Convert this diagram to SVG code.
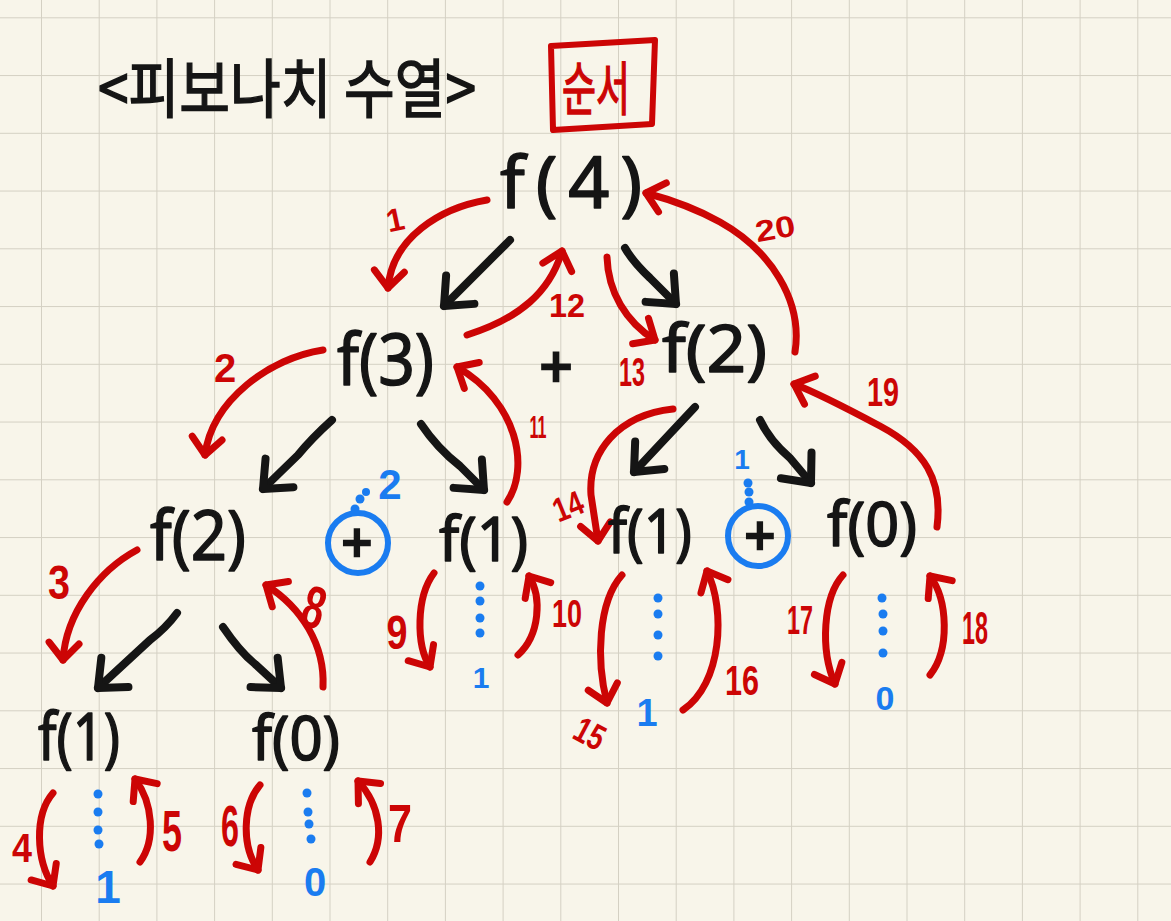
<svg xmlns="http://www.w3.org/2000/svg" width="1171" height="921" viewBox="0 0 1171 921">
<style>
.blk{fill:none;stroke:#151515;stroke-width:8;stroke-linecap:round;stroke-linejoin:round}
.red{fill:none;stroke:#cc0505;stroke-width:7;stroke-linecap:round;stroke-linejoin:round}
.node{font-family:"Noto Sans","DejaVu Sans",sans-serif;fill:#151515;stroke:#151515;stroke-width:1.5;stroke-linejoin:round}
.num{font-family:"Liberation Sans","Noto Sans",sans-serif;font-weight:bold;fill:#cc0505;text-anchor:middle}
.bnum{font-family:"Liberation Sans","Noto Sans",sans-serif;font-weight:bold;fill:#1a7cf0;text-anchor:middle}
.kr{font-family:"Noto Sans CJK KR","Noto Sans",sans-serif}
.dot{fill:#1a7cf0}
.ring{fill:none;stroke:#1a7cf0;stroke-width:6}
.plus{font-family:"Noto Sans","DejaVu Sans",sans-serif;fill:#151515;stroke:#151515;stroke-width:2.5;text-anchor:middle}
</style>
<defs>
<pattern id="grid" patternUnits="userSpaceOnUse" x="41" y="17.3" width="57.7" height="57.75">
<path d="M0 0 H57.7 M0 0 V57.75" fill="none" stroke="#d4d0c3" stroke-width="2"/>
</pattern>
<marker id="hb" markerUnits="userSpaceOnUse" viewBox="-30 -25 36 50" markerWidth="36" markerHeight="50" refX="0" refY="0" orient="auto">
<path d="M-23 -20 L0 0 L-23 20" fill="none" stroke="#151515" stroke-width="8" stroke-linecap="round" stroke-linejoin="round"/>
</marker>
<marker id="hr" markerUnits="userSpaceOnUse" viewBox="-25 -20 30 40" markerWidth="30" markerHeight="40" refX="0" refY="0" orient="auto">
<path d="M-17 -15 L0 0 L-17 15" fill="none" stroke="#cc0505" stroke-width="7" stroke-linecap="round" stroke-linejoin="round"/>
</marker>
</defs>
<rect width="1171" height="921" fill="#f8f5ea"/>
<rect width="1171" height="921" fill="url(#grid)"/>

<g id="title">
<text class="kr" x="98" y="112" font-size="64" fill="#151515" stroke="#151515" stroke-width="1.5" textLength="378" lengthAdjust="spacingAndGlyphs">&lt;피보나치 수열&gt;</text>
</g>
<g id="order-box">
<path d="M551 46 L655 40 L652 124 L553 130 Z" fill="none" stroke="#cc0505" stroke-width="6" stroke-linejoin="round"/>
<text class="kr" x="562" y="110" font-size="58" fill="#cc0505" stroke="#cc0505" stroke-width="1.5" textLength="68" lengthAdjust="spacingAndGlyphs">순서</text>
</g>

<g id="connectors">
<!-- black call arrows -->
<path class="blk" marker-end="url(#hb)" d="M510 240 L444 306"/>
<path class="blk" marker-end="url(#hb)" d="M625 248 Q633 262 650 278 L676 304"/>
<path class="blk" marker-end="url(#hb)" d="M332 420 Q312 438 298 455 L263 489"/>
<path class="blk" marker-end="url(#hb)" d="M421 424 Q437 448 460 466 L484 490"/>
<path class="blk" marker-end="url(#hb)" d="M177 613 Q166 628 150 640 L98 688"/>
<path class="blk" marker-end="url(#hb)" d="M223 627 Q240 652 255 664 L281 688"/>
<path class="blk" marker-end="url(#hb)" d="M695 407 L634 472"/>
<path class="blk" marker-end="url(#hb)" d="M760 420 Q770 441 790 458 L811 483"/>
<!-- red order arrows -->
<path class="red" marker-end="url(#hr)" d="M487 200 C440 208 392 238 388 288"/>
<path class="red" marker-end="url(#hr)" d="M323 350 C270 358 212 400 205 455"/>
<path class="red" marker-end="url(#hr)" d="M137 550 C100 570 66 612 63 660"/>
<path class="red" marker-end="url(#hr)" d="M53 793 C34 815 36 860 53 886"/>
<path class="red" marker-end="url(#hr)" d="M140 862 C156 840 153 803 135 779"/>
<path class="red" marker-end="url(#hr)" d="M260 785 C243 805 241 845 258 870"/>
<path class="red" marker-end="url(#hr)" d="M370 862 C385 838 380 805 358 781"/>
<path class="red" marker-end="url(#hr)" d="M323 687 C325 645 302 608 266 585"/>
<path class="red" marker-end="url(#hr)" d="M434 573 C416 597 416 645 430 667"/>
<path class="red" marker-end="url(#hr)" d="M518 655 C540 635 542 597 529 576"/>
<path class="red" marker-end="url(#hr)" d="M507 502 C530 468 518 402 457 367"/>
<path class="red" marker-end="url(#hr)" d="M467 335 C520 318 550 292 562 251"/>
<path class="red" marker-end="url(#hr)" d="M607 257 C608 292 626 322 655 340"/>
<path class="red" marker-end="url(#hr)" d="M673 409 C618 415 588 452 591 495 L598 541"/>
<path class="red" marker-end="url(#hr)" d="M622 575 C598 602 596 660 607 703"/>
<path class="red" marker-end="url(#hr)" d="M683 710 C722 684 726 610 707 571"/>
<path class="red" marker-end="url(#hr)" d="M843 575 C823 597 820 650 835 684"/>
<path class="red" marker-end="url(#hr)" d="M930 675 C950 650 948 600 930 576"/>
<path class="red" marker-end="url(#hr)" d="M937 527 C943 480 925 450 880 426 C850 410 820 394 794 384"/>
<path class="red" marker-end="url(#hr)" d="M795 352 C803 300 770 250 720 222 C695 208 672 200 646 193"/>
<!-- blue value dots -->
<g class="dot">
<circle cx="98" cy="794" r="4.5"/><circle cx="98" cy="812" r="4.5"/><circle cx="98" cy="830" r="4.5"/><circle cx="99" cy="844" r="4.5"/>
<circle cx="307" cy="793" r="4.5"/><circle cx="308" cy="812" r="4.5"/><circle cx="309" cy="824" r="4.5"/><circle cx="311" cy="839" r="4.5"/>
<circle cx="480" cy="586" r="4.5"/><circle cx="480" cy="601" r="4.5"/><circle cx="480" cy="618" r="4.5"/><circle cx="480" cy="633" r="4.5"/>
<circle cx="658" cy="598" r="4.5"/><circle cx="658" cy="614" r="4.5"/><circle cx="658" cy="635" r="4.5"/><circle cx="658" cy="656" r="4.5"/>
<circle cx="882" cy="598" r="4.5"/><circle cx="883" cy="614" r="4.5"/><circle cx="883" cy="631" r="4.5"/><circle cx="883" cy="653" r="4.5"/>
<circle cx="355" cy="509" r="4.5"/><circle cx="360" cy="499" r="4.5"/><circle cx="366" cy="492" r="4"/>
<circle cx="748" cy="483" r="4.5"/><circle cx="749" cy="492" r="4.5"/><circle cx="749" cy="502" r="4.5"/>
</g>
<!-- red order labels -->
<text class="num" font-size="32" x="395" y="231" transform="rotate(-12 395 219)">1</text>
<text class="num" font-size="40" x="225" y="382">2</text>
<text class="num" font-size="48" x="59" y="599" textLength="22" lengthAdjust="spacingAndGlyphs">3</text>
<text class="num" font-size="40" x="22" y="862" textLength="20" lengthAdjust="spacingAndGlyphs">4</text>
<text class="num" font-size="58" x="172" y="851" textLength="20" lengthAdjust="spacingAndGlyphs">5</text>
<text class="num" font-size="58" x="230" y="846" textLength="18" lengthAdjust="spacingAndGlyphs">6</text>
<text class="num" font-size="54" x="400" y="842" textLength="24" lengthAdjust="spacingAndGlyphs">7</text>
<text class="num" font-size="60" x="314" y="628" textLength="22" lengthAdjust="spacingAndGlyphs" transform="rotate(15 314 607)">8</text>
<text class="num" font-size="48" x="397" y="649" textLength="21" lengthAdjust="spacingAndGlyphs">9</text>
<text class="num" font-size="38" x="567" y="627" textLength="30" lengthAdjust="spacingAndGlyphs">10</text>
<text class="num" font-size="32" x="538" y="438" textLength="17" lengthAdjust="spacingAndGlyphs">11</text>
<text class="num" font-size="34" x="567" y="317" textLength="36" lengthAdjust="spacingAndGlyphs">12</text>
<text class="num" font-size="40" x="632" y="386" textLength="26" lengthAdjust="spacingAndGlyphs">13</text>
<text class="num" font-size="34" x="568" y="518" textLength="30" lengthAdjust="spacingAndGlyphs" transform="rotate(-22 568 506)">14</text>
<text class="num" font-size="36" x="590" y="746" textLength="30" lengthAdjust="spacingAndGlyphs" transform="rotate(28 590 733)">15</text>
<text class="num" font-size="42" x="742" y="695" textLength="34" lengthAdjust="spacingAndGlyphs">16</text>
<text class="num" font-size="40" x="800" y="634" textLength="26" lengthAdjust="spacingAndGlyphs">17</text>
<text class="num" font-size="46" x="975" y="644" textLength="26" lengthAdjust="spacingAndGlyphs">18</text>
<text class="num" font-size="40" x="883" y="406" textLength="32" lengthAdjust="spacingAndGlyphs">19</text>
<text class="num" font-size="30" x="775" y="239" textLength="40" lengthAdjust="spacingAndGlyphs" transform="rotate(-10 775 228)">20</text>
<!-- blue values -->
<text class="bnum" font-size="42" x="390" y="499">2</text>
<text class="bnum" font-size="28" x="742" y="469">1</text>
<text class="bnum" font-size="30" x="481" y="688">1</text>
<text class="bnum" font-size="38" x="647" y="726">1</text>
<text class="bnum" font-size="46" x="108" y="903">1</text>
<text class="bnum" font-size="34" x="885" y="710">0</text>
<text class="bnum" font-size="40" x="315" y="896">0</text>
</g>

<g id="f4"><text class="node" x="500" y="208" font-size="72" textLength="142" lengthAdjust="spacing">f(4)</text></g>
<g id="f3"><text class="node" x="337" y="385" font-size="72" textLength="97" lengthAdjust="spacingAndGlyphs">f(3)</text></g>
<g id="plus-f3-f2"><text class="plus" x="556" y="388" font-size="58">+</text></g>
<g id="f2-right"><text class="node" x="662" y="372" font-size="66" textLength="105" lengthAdjust="spacingAndGlyphs">f(2)</text></g>
<g id="f2-left"><text class="node" x="150" y="560" font-size="70" textLength="96" lengthAdjust="spacingAndGlyphs">f(2)</text></g>
<g id="plus-left"><circle class="ring" cx="358" cy="543" r="30"/><text class="plus" x="357" y="562" font-size="54">+</text></g>
<g id="f1-mid"><text class="node" x="439" y="561" font-size="62" textLength="89" lengthAdjust="spacingAndGlyphs">f(1)</text></g>
<g id="f1-right"><text class="node" x="608" y="553" font-size="62" textLength="84" lengthAdjust="spacingAndGlyphs">f(1)</text></g>
<g id="plus-right"><circle class="ring" cx="758" cy="536" r="30"/><text class="plus" x="760" y="555" font-size="54">+</text></g>
<g id="f0-right"><text class="node" x="827" y="546" font-size="62" textLength="90" lengthAdjust="spacingAndGlyphs">f(0)</text></g>
<g id="f1-left"><text class="node" x="38" y="760" font-size="66" textLength="82" lengthAdjust="spacingAndGlyphs">f(1)</text></g>
<g id="f0-left"><text class="node" x="252" y="760" font-size="62" textLength="88" lengthAdjust="spacingAndGlyphs">f(0)</text></g>
</svg>
